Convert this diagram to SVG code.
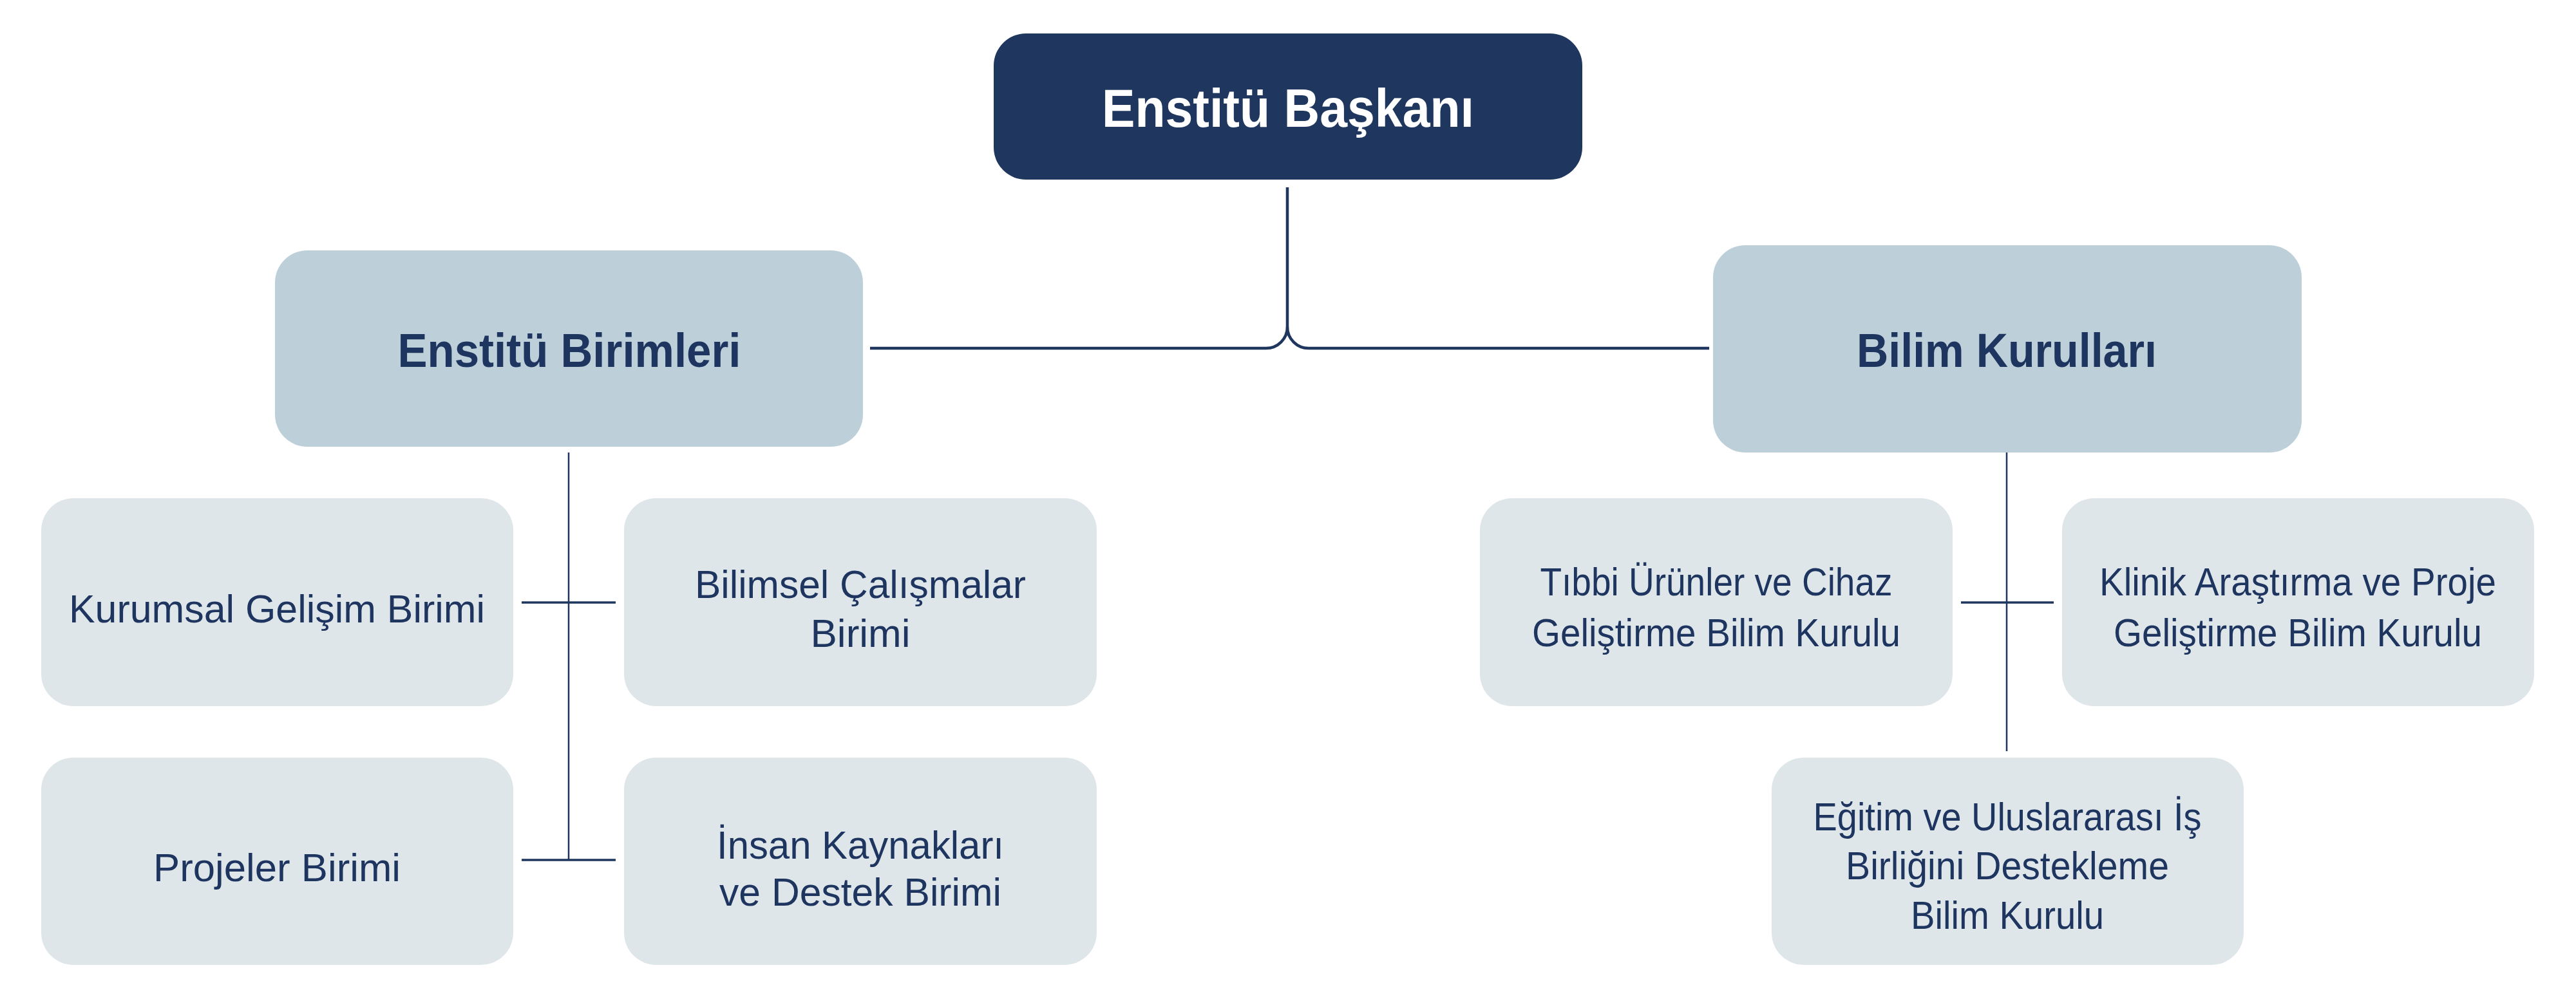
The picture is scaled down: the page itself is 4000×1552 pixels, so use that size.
<svg xmlns="http://www.w3.org/2000/svg" width="4000" height="1552" viewBox="0 0 4000 1552">
<style>
.top{fill:#1f365e}
.mid{fill:#bdd0da}
.leaf{fill:#dfe6ea}
text{font-family:"Liberation Sans",Arial,sans-serif;text-anchor:middle}
.t1{fill:#ffffff;font-weight:bold;font-size:84px}
.t2{fill:#1e3560;font-weight:bold;font-size:75px}
.t3{fill:#1e3560;font-size:62px}
.c1{fill:none;stroke:#1f365e;stroke-width:4.5}
.c2{fill:none;stroke:#1f365e;stroke-width:2.5}
.c3{fill:none;stroke:#1f365e;stroke-width:3.5}
</style>
<rect width="4000" height="1552" fill="#ffffff"/>
<g id="connectors">
<path class="c1" d="M1999,291 V508 A33,33 0 0 1 1966,541 H1351"/>
<path class="c1" d="M1999,508 A33,33 0 0 0 2032,541 H2654"/>
<path class="c2" d="M883,703 V1337"/>
<path class="c3" d="M810,936 H956"/>
<path class="c3" d="M810,1336 H956"/>
<path class="c2" d="M3116,703 V1167"/>
<path class="c3" d="M3045,936 H3189"/>
</g>
<g id="enstitu-baskani">
<rect class="top" x="1543" y="52" width="914" height="227" rx="50"/>
<text class="t1" x="2000" y="197" textLength="578" lengthAdjust="spacingAndGlyphs">Enstitü Başkanı</text>
</g>
<g id="enstitu-birimleri">
<rect class="mid" x="427" y="389" width="913" height="305" rx="50"/>
<text class="t2" x="884" y="570" textLength="533" lengthAdjust="spacingAndGlyphs">Enstitü Birimleri</text>
</g>
<g id="bilim-kurullari">
<rect class="mid" x="2660" y="381" width="914" height="322" rx="50"/>
<text class="t2" x="3116" y="570" textLength="466" lengthAdjust="spacingAndGlyphs">Bilim Kurulları</text>
</g>
<g id="kurumsal-gelisim">
<rect class="leaf" x="64" y="774" width="733" height="323" rx="50"/>
<text class="t3" x="430" y="967" textLength="646" lengthAdjust="spacingAndGlyphs">Kurumsal Gelişim Birimi</text>
</g>
<g id="bilimsel-calismalar">
<rect class="leaf" x="969" y="774" width="734" height="323" rx="50"/>
<text class="t3" x="1336" y="929" textLength="514" lengthAdjust="spacingAndGlyphs">Bilimsel Çalışmalar</text>
<text class="t3" x="1336" y="1005" textLength="155" lengthAdjust="spacingAndGlyphs">Birimi</text>
</g>
<g id="projeler">
<rect class="leaf" x="64" y="1177" width="733" height="322" rx="50"/>
<text class="t3" x="430" y="1369" textLength="384" lengthAdjust="spacingAndGlyphs">Projeler Birimi</text>
</g>
<g id="insan-kaynaklari">
<rect class="leaf" x="969" y="1177" width="734" height="322" rx="50"/>
<text class="t3" x="1336" y="1334" textLength="446" lengthAdjust="spacingAndGlyphs">İnsan Kaynakları</text>
<text class="t3" x="1336" y="1407" textLength="438" lengthAdjust="spacingAndGlyphs">ve Destek Birimi</text>
</g>
<g id="tibbi-urunler">
<rect class="leaf" x="2298" y="774" width="734" height="323" rx="50"/>
<text class="t3" x="2665" y="925" textLength="547" lengthAdjust="spacingAndGlyphs">Tıbbi Ürünler ve Cihaz</text>
<text class="t3" x="2665" y="1004" textLength="572" lengthAdjust="spacingAndGlyphs">Geliştirme Bilim Kurulu</text>
</g>
<g id="klinik-arastirma">
<rect class="leaf" x="3202" y="774" width="733" height="323" rx="50"/>
<text class="t3" x="3568" y="925" textLength="616" lengthAdjust="spacingAndGlyphs">Klinik Araştırma ve Proje</text>
<text class="t3" x="3568" y="1004" textLength="572" lengthAdjust="spacingAndGlyphs">Geliştirme Bilim Kurulu</text>
</g>
<g id="egitim-uluslararasi">
<rect class="leaf" x="2751" y="1177" width="733" height="322" rx="50"/>
<text class="t3" x="3117" y="1290" textLength="603" lengthAdjust="spacingAndGlyphs">Eğitim ve Uluslararası İş</text>
<text class="t3" x="3117" y="1366" textLength="502" lengthAdjust="spacingAndGlyphs">Birliğini Destekleme</text>
<text class="t3" x="3117" y="1443" textLength="300" lengthAdjust="spacingAndGlyphs">Bilim Kurulu</text>
</g>
</svg>
